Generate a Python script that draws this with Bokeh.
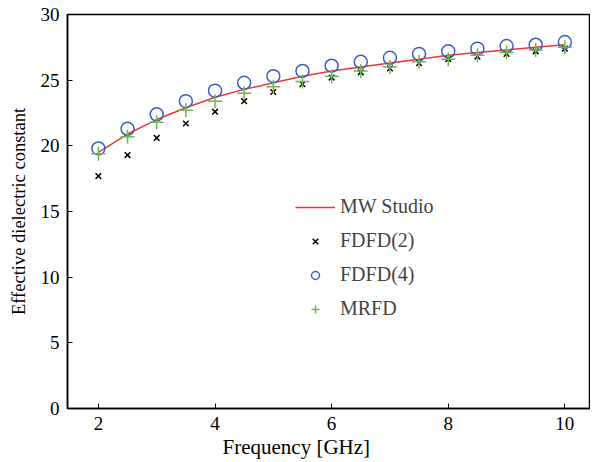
from bokeh.plotting import figure
from bokeh.models import Range1d, FixedTicker, Legend, LegendItem, Title
from bokeh.embed import file_html
from bokeh.resources import INLINE

freq = [2, 2.5, 3, 3.5, 4, 4.5, 5, 5.5, 6, 6.5, 7, 7.5, 8, 8.5, 9, 9.5, 10]
mw_studio = [19.5, 20.9, 22.0, 22.9, 23.7, 24.3, 24.8, 25.3, 25.7, 26.0, 26.3, 26.6, 26.9, 27.1, 27.3, 27.5, 27.7]
fdfd2 = [17.7, 19.3, 20.6, 21.7, 22.6, 23.4, 24.1, 24.7, 25.2, 25.6, 25.9, 26.3, 26.6, 26.8, 27.0, 27.2, 27.4]
fdfd4 = [19.8, 21.3, 22.4, 23.4, 24.2, 24.8, 25.3, 25.7, 26.1, 26.4, 26.7, 27.0, 27.2, 27.4, 27.6, 27.7, 27.9]
mrfd = [19.4, 20.7, 21.8, 22.7, 23.4, 24.0, 24.5, 24.9, 25.3, 25.7, 26.0, 26.4, 26.6, 26.9, 27.1, 27.3, 27.5]
x_ticks = [2, 4, 6, 8, 10]
y_ticks = [0, 5, 10, 15, 20, 25, 30]

FONT = "Liberation Serif"

p = figure(width=590, height=462, output_backend="svg", toolbar_location=None,
           x_range=Range1d(1.47, 10.44), y_range=Range1d(0, 30),
           min_border_left=67, min_border_top=14, min_border_bottom=54, min_border_right=0,
           y_axis_label="Effective dielectric constant")
p.grid.visible = False
p.outline_line_color = "black"
p.outline_line_width = 1.5

r_line = p.line(freq, mw_studio, line_color="#ee3535", line_width=1.5)
r_x = p.scatter(freq, fdfd2, marker="x", size=8, line_color="black", line_width=1.5)
r_o = p.scatter(freq, fdfd4, marker="circle", size=13, fill_color=None, line_color="#3a5fbd", line_width=1.5)
r_p = p.scatter(freq, mrfd, marker="cross", size=14, line_color="#6cb84e", line_width=1.5)

for ax in p.xaxis + p.yaxis:
    ax.axis_line_width = 1.5
    ax.major_tick_in = 5
    ax.major_tick_out = 0
    ax.minor_tick_in = 0
    ax.minor_tick_out = 0
    ax.major_label_text_font = FONT
    ax.major_label_text_font_size = "19px"
    ax.major_label_text_color = "black"
    ax.axis_label_text_font = FONT
    ax.axis_label_text_font_size = "18.5px"
    ax.axis_label_text_font_style = "normal"
    ax.axis_label_text_color = "black"

p.xaxis.ticker = FixedTicker(ticks=x_ticks)
p.yaxis.ticker = FixedTicker(ticks=y_ticks)
p.xaxis.major_label_standoff = 8
p.yaxis.major_label_standoff = 8
p.yaxis.axis_label_standoff = 9

xlabel = Title(text="Frequency [GHz]", align="left", offset=155, standoff=0,
               text_font=FONT, text_font_size="21px", text_font_style="normal", text_color="black")
p.add_layout(xlabel, "below")

legend = Legend(items=[
    LegendItem(label="MW Studio", renderers=[r_line]),
    LegendItem(label="FDFD(2)", renderers=[r_x]),
    LegendItem(label="FDFD(4)", renderers=[r_o]),
    LegendItem(label="MRFD", renderers=[r_p]),
], location=(228, 88))
legend.border_line_color = None
legend.background_fill_alpha = 0
legend.label_text_font = FONT
legend.label_text_font_size = "20px"
legend.glyph_width = 40
legend.glyph_height = 20
legend.label_height = 20
legend.label_standoff = 5
legend.spacing = 11
legend.padding = 4
legend.margin = 0
p.add_layout(legend, "center")

open("out.html", "w").write(file_html(p, INLINE))
